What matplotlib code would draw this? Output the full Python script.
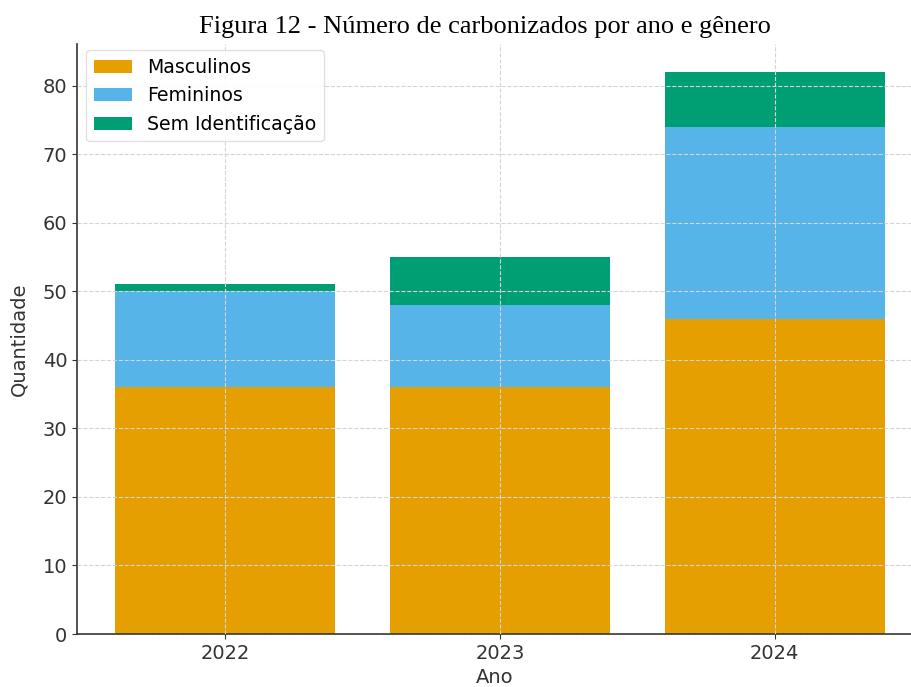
import matplotlib.pyplot as plt
import numpy as np

# dados
anos = ['2022', '2023', '2024']
masculinos = [36, 36, 46]
femininos = [14, 12, 28]
sem_id = [1, 7, 8]

cores = ['#E69F00', '#56B4E9', '#009E73']

fig = plt.figure(figsize=(9.12, 6.87), dpi=100)
ax = fig.add_axes([0.0844, 0.0771, 0.9156, 0.859])

x = np.arange(len(anos))
m = np.array(masculinos)
f = np.array(femininos)
s = np.array(sem_id)

ax.bar(x, m, width=0.8, color=cores[0], label='Masculinos', zorder=2)
ax.bar(x, f, width=0.8, bottom=m, color=cores[1], label='Femininos', zorder=2)
ax.bar(x, s, width=0.8, bottom=m + f, color=cores[2], label='Sem Identificação', zorder=2)

ax.set_xticks(x)
ax.set_xticklabels(anos)
ax.set_xlim(-0.54, 2.5)
ax.set_ylim(0, 86.1)

ax.grid(True, linestyle='--', color='#d5d5d5', linewidth=0.8, zorder=0)
ax.set_axisbelow(False)
for sp in ['top', 'right']:
    ax.spines[sp].set_visible(False)
for sp in ['left', 'bottom']:
    ax.spines[sp].set_color('#333333')
    ax.spines[sp].set_linewidth(1.2)

ax.tick_params(labelsize=14, colors='#333333')
ax.set_xlabel('Ano', fontsize=14, color='#333333', labelpad=4)
ax.set_ylabel('Quantidade', fontsize=14, color='#333333', labelpad=10)

ax.legend(loc='upper left', fontsize=13.6, frameon=True, framealpha=0.9,
          edgecolor='#dddddd', handlelength=2.0, borderpad=0.4,
          bbox_to_anchor=(0.0, 1.005))

fig.text(485 / 912, 1 - 27 / 687, 'Figura 12 - Número de carbonizados por ano e gênero',
         ha='center', va='center', fontsize=19, family='Liberation Serif')

plt.savefig('out.png', dpi=100)
